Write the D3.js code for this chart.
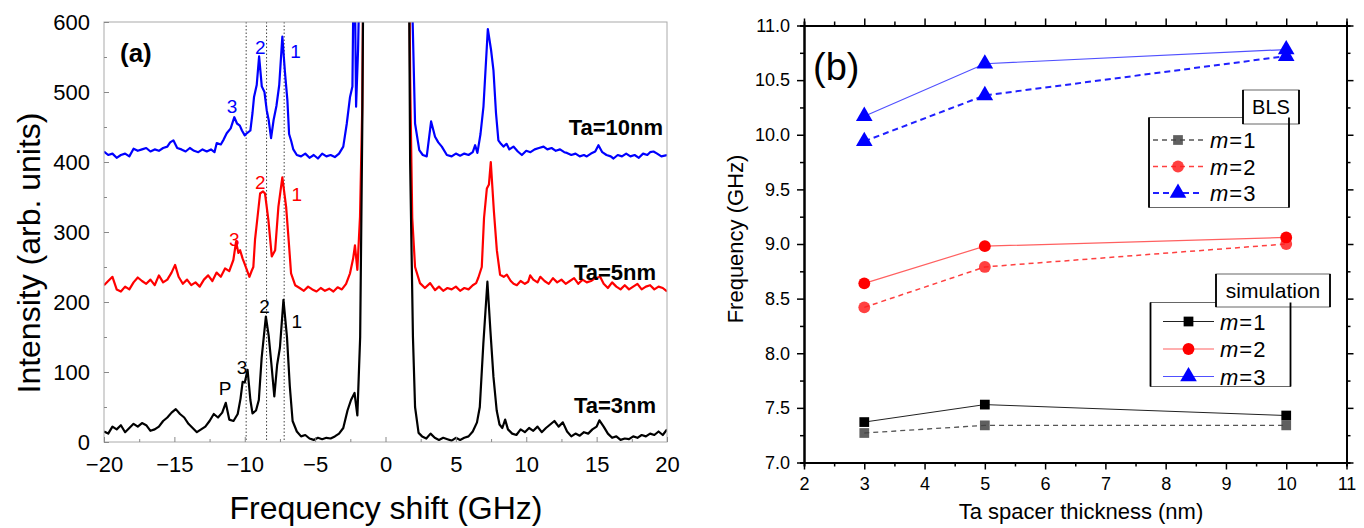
<!DOCTYPE html>
<html>
<head>
<meta charset="utf-8">
<script src="https://cdn.jsdelivr.net/npm/d3@7"></script>
<style>
  body { margin: 0; background: #fff; }
  svg { display: block; font-family: Arial, "Liberation Sans", sans-serif; }
</style>
</head>
<body>
<script>
// Panel (a): BLS spectra, [frequency shift GHz, intensity]
var spec3nm = [[-20,15],[-19.7,12],[-19.4,22],[-19.1,18],[-18.8,24],[-18.5,14],[-18.2,20],[-17.9,26],[-17.6,22],[-17.3,27],[-17,24],[-16.7,16],[-16.4,18],[-16.1,22],[-15.8,30],[-15.5,35],[-15.2,42],[-14.9,47],[-14.6,40],[-14.3,35],[-14,26],[-13.7,20],[-13.4,14],[-13.1,18],[-12.8,22],[-12.5,30],[-12.2,40],[-11.9,35],[-11.6,42],[-11.35,56],[-11.1,32],[-10.8,30],[-10.5,40],[-10.3,62],[-10.15,86],[-10,85],[-9.8,103],[-9.6,60],[-9.45,41],[-9.2,45],[-9,60],[-8.8,120],[-8.5,179],[-8.3,152],[-8.1,110],[-7.9,65],[-7.7,110],[-7.5,135],[-7.25,203],[-7.0,150],[-6.8,80],[-6.6,30],[-6.3,15],[-6,8],[-5.7,10],[-5.4,5],[-5.1,3],[-4.8,6],[-4.5,4],[-4.2,6],[-3.9,5],[-3.6,8],[-3.3,12],[-3.0,20],[-2.7,45],[-2.45,60],[-2.2,70],[-2.0,38],[-1.8,150],[-1.65,450],[-1.5,900],[1.6,900],[1.75,400],[1.95,150],[2.1,50],[2.35,13],[2.6,8],[2.9,5],[3.2,12],[3.5,6],[3.8,3],[4.1,6],[4.4,4],[4.7,2],[5.0,6],[5.3,3],[5.6,6],[5.9,8],[6.2,15],[6.5,28],[6.7,50],[6.95,140],[7.24,229],[7.45,160],[7.67,93],[7.9,45],[8.1,25],[8.3,20],[8.5,32],[8.7,18],[9.0,12],[9.3,10],[9.6,18],[9.9,14],[10.2,20],[10.5,16],[10.8,22],[11.1,14],[11.4,20],[11.7,25],[12.0,30],[12.3,22],[12.6,28],[12.9,15],[13.2,8],[13.5,12],[13.8,9],[14.1,14],[14.4,12],[14.7,18],[15.0,22],[15.2,31],[15.5,22],[15.8,12],[16.1,6],[16.4,8],[16.7,3],[17.0,5],[17.3,4],[17.6,8],[17.9,6],[18.2,10],[18.5,8],[18.8,12],[19.1,10],[19.4,15],[19.7,10],[20,18]];

var spec5nm = [[-20,224],[-19.7,230],[-19.4,236],[-19.1,218],[-18.8,215],[-18.5,222],[-18.2,218],[-17.9,228],[-17.6,235],[-17.3,230],[-17,226],[-16.7,232],[-16.4,224],[-16.1,238],[-15.8,228],[-15.5,232],[-15.2,242],[-14.95,253],[-14.7,236],[-14.4,226],[-14.1,232],[-13.8,224],[-13.5,228],[-13.2,222],[-12.9,232],[-12.6,238],[-12.3,230],[-12,242],[-11.7,236],[-11.4,248],[-11.1,244],[-10.81,260],[-10.62,286],[-10.45,270],[-10.33,274],[-10.15,262],[-9.98,253],[-9.67,236],[-9.5,245],[-9.39,250],[-9.27,289],[-9.1,320],[-8.91,355],[-8.7,358],[-8.56,355],[-8.32,317],[-8.08,265],[-7.84,274],[-7.61,336],[-7.33,378],[-7.06,336],[-6.85,280],[-6.71,241],[-6.42,224],[-6.1,220],[-5.8,216],[-5.5,222],[-5.2,218],[-4.9,215],[-4.6,220],[-4.3,216],[-4.0,219],[-3.7,215],[-3.4,221],[-3.1,218],[-2.8,226],[-2.52,241],[-2.3,262],[-2.17,281],[-2.0,246],[-1.81,322],[-1.65,480],[-1.5,900],[1.6,900],[1.75,520],[1.9,320],[2.1,250],[2.45,227],[2.8,220],[3.17,227],[3.52,217],[3.8,222],[4.1,216],[4.4,220],[4.7,218],[5.0,222],[5.3,216],[5.6,220],[5.9,218],[6.2,224],[6.44,227],[6.6,235],[6.84,250],[7.0,320],[7.2,362],[7.35,368],[7.48,400],[7.7,330],[7.91,274],[8.14,239],[8.4,236],[8.62,239],[8.9,230],[9.1,226],[9.33,224],[9.6,230],[9.9,226],[10.14,229],[10.28,238],[10.5,232],[10.8,228],[11.0,236],[11.3,230],[11.6,226],[11.9,234],[12.2,228],[12.5,232],[12.8,226],[13.1,230],[13.4,234],[13.7,226],[14.0,232],[14.3,228],[14.6,230],[14.9,234],[15.25,236],[15.5,226],[15.8,220],[16.1,228],[16.4,222],[16.7,218],[17.0,224],[17.3,218],[17.6,222],[17.9,226],[18.2,218],[18.5,222],[18.8,224],[19.1,218],[19.4,222],[19.7,220],[20,215]];

var spec10nm = [[-20,415],[-19.7,410],[-19.4,412],[-19.1,406],[-18.8,410],[-18.5,412],[-18.2,408],[-17.9,419],[-17.6,416],[-17.3,418],[-17,420],[-16.7,415],[-16.4,418],[-16.1,416],[-15.8,420],[-15.5,422],[-15.3,428],[-15.07,431],[-14.8,420],[-14.5,418],[-14.2,415],[-13.9,420],[-13.6,416],[-13.3,414],[-13,418],[-12.7,415],[-12.4,418],[-12.15,414],[-11.99,427],[-11.7,425],[-11.5,432],[-11.28,441],[-11.0,448],[-10.74,464],[-10.55,455],[-10.35,452],[-10.2,445],[-10.0,438],[-9.86,441],[-9.6,445],[-9.45,470],[-9.34,493],[-9.15,510],[-8.98,551],[-8.79,508],[-8.6,500],[-8.44,474],[-8.3,460],[-8.13,434],[-7.95,460],[-7.75,480],[-7.55,510],[-7.33,579],[-7.15,530],[-6.97,488],[-6.85,440],[-6.7,430],[-6.55,418],[-6.3,410],[-6.0,408],[-5.7,412],[-5.4,406],[-5.1,410],[-4.8,405],[-4.5,412],[-4.2,408],[-3.9,410],[-3.6,407],[-3.3,412],[-3.0,422],[-2.75,455],[-2.52,493],[-2.35,508],[-2.25,700],[-2.15,600],[-2.09,479],[-1.95,560],[-1.81,700],[-1.5,900],[1.6,900],[1.87,650],[2.1,455],[2.4,417],[2.65,410],[2.93,408],[3.24,458],[3.52,436],[3.75,428],[4.0,422],[4.36,410],[4.7,408],[5.0,412],[5.3,409],[5.6,412],[5.9,410],[6.2,414],[6.37,424],[6.53,413],[6.75,440],[6.96,479],[7.27,590],[7.5,560],[7.67,531],[7.85,470],[8.02,431],[8.2,426],[8.38,422],[8.6,426],[8.8,418],[9.09,422],[9.4,415],[9.69,410],[10.0,416],[10.3,414],[10.6,418],[10.9,420],[11.23,422],[11.5,418],[11.8,420],[12.1,416],[12.4,418],[12.7,414],[12.89,413],[13.2,410],[13.5,412],[13.8,408],[14.1,410],[14.3,408],[14.6,412],[14.9,415],[15.13,424],[15.4,414],[15.7,410],[16.0,408],[16.2,405],[16.5,410],[16.8,408],[17.1,412],[17.4,408],[17.7,410],[18.0,406],[18.3,412],[18.6,410],[18.8,414],[19.04,415],[19.3,412],[19.6,408],[20,410]];

var modeLines = [-9.9, -8.45, -7.2];
var xTicksA = [-20, -15, -10, -5, 0, 5, 10, 15, 20];
var yTicksA = [0, 100, 200, 300, 400, 500, 600];

// Panel (b): mode frequency vs Ta thickness
var thickness = [3, 5, 10];
var simM1 = [7.37, 7.53, 7.43];
var simM2 = [8.64, 8.98, 9.06];
var simM3 = [10.17, 10.65, 10.78];
var blsM1 = [7.27, 7.34, 7.34];
var blsM2 = [8.42, 8.79, 9.00];
var blsM3 = [9.94, 10.36, 10.72];
var xTicksB = [2, 3, 4, 5, 6, 7, 8, 9, 10, 11];
var yTicksB = [7.0, 7.5, 8.0, 8.5, 9.0, 9.5, 10.0, 10.5, 11.0];

var W = 1364, H = 528;
var svg = d3.select("body").append("svg").attr("width", W).attr("height", H);

// ---------- panel (a) ----------
var ax = d3.scaleLinear().domain([-20, 20]).range([104, 667]);
var ay = d3.scaleLinear().domain([0, 600]).range([442, 22]);

svg.append("clipPath").attr("id", "clipA")
    .append("rect").attr("x", 104).attr("y", 22).attr("width", 563).attr("height", 420);

var gA = svg.append("g");

// dotted mode guides
gA.selectAll(".mode")
    .data(modeLines)
    .enter().append("line")
    .attr("x1", ax).attr("x2", ax)
    .attr("y1", ay(600)).attr("y2", ay(0))
    .attr("stroke", "#444").attr("stroke-width", 1)
    .attr("stroke-dasharray", "1.5,2");

var line = d3.line().x(function(d) { return ax(d[0]); }).y(function(d) { return ay(d[1]); });
var spectra = [[spec10nm, "#0000ff"], [spec5nm, "#ff0000"], [spec3nm, "#000000"]];
gA.append("g").attr("clip-path", "url(#clipA)")
    .selectAll("path")
    .data(spectra)
    .enter().append("path")
    .attr("d", function(d) { return line(d[0]); })
    .attr("fill", "none")
    .attr("stroke", function(d) { return d[1]; })
    .attr("stroke-width", 2.2)
    .attr("stroke-linejoin", "round");

// frame + inward ticks
gA.append("rect").attr("x", 104).attr("y", 22).attr("width", 563).attr("height", 420)
    .attr("fill", "none").attr("stroke", "#aaa").attr("stroke-width", 1);

var minorXA = d3.range(-17.5, 20, 5);
var minorYA = d3.range(50, 600, 100);
var xAxisA = gA.append("g").attr("transform", "translate(0,442)")
    .call(d3.axisBottom(ax).tickValues(xTicksA).tickSize(-5).tickSizeOuter(0).tickPadding(14));
xAxisA.selectAll("text").attr("font-size", 22).attr("fill", "#000");
gA.append("g").attr("transform", "translate(0,442)")
    .call(d3.axisBottom(ax).tickValues(minorXA).tickSize(-3).tickFormat(""));
var yAxisA = gA.append("g").attr("transform", "translate(104,0)")
    .call(d3.axisLeft(ay).tickValues(yTicksA).tickSize(-5).tickSizeOuter(0).tickPadding(14));
yAxisA.selectAll("text").attr("font-size", 22).attr("fill", "#000");
gA.append("g").attr("transform", "translate(104,0)")
    .call(d3.axisLeft(ay).tickValues(minorYA).tickSize(-3).tickFormat(""));
gA.selectAll(".domain").remove();
gA.selectAll(".tick line").attr("stroke", "#888");

gA.append("text").attr("x", 386).attr("y", 519).attr("text-anchor", "middle")
    .attr("font-size", 32).text("Frequency shift (GHz)");
gA.append("text").attr("transform", "translate(40,253) rotate(-90)").attr("text-anchor", "middle")
    .attr("font-size", 32).text("Intensity (arb. units)");
gA.append("text").attr("x", 120).attr("y", 62).attr("font-size", 26).attr("font-weight", "bold").text("(a)");

var peakLabels = [
    ["2", -8.9, 555, "#0000ff"], ["1", -6.4, 548, "#0000ff"], ["3", -10.9, 470, "#0000ff"],
    ["2", -8.9, 362, "#ff0000"], ["1", -6.3, 345, "#ff0000"], ["3", -10.75, 280, "#ff0000"],
    ["2", -8.6, 185, "#000"], ["1", -6.3, 163, "#000"], ["3", -10.2, 97, "#000"], ["P", -11.4, 67, "#000"]
];
gA.selectAll(".plab").data(peakLabels).enter().append("text")
    .attr("x", function(d) { return ax(d[1]); })
    .attr("y", function(d) { return ay(d[2]); })
    .attr("text-anchor", "middle").attr("font-size", 19)
    .attr("fill", function(d) { return d[3]; })
    .text(function(d) { return d[0]; });

var seriesLabels = [["Ta=10nm", 663, 135], ["Ta=5nm", 656, 280], ["Ta=3nm", 656, 413]];
gA.selectAll(".slab").data(seriesLabels).enter().append("text")
    .attr("x", function(d) { return d[1]; }).attr("y", function(d) { return d[2]; })
    .attr("text-anchor", "end").attr("font-size", 22).attr("font-weight", "bold")
    .text(function(d) { return d[0]; });

// ---------- panel (b) ----------
var bx = d3.scaleLinear().domain([2, 11]).range([804, 1346.5]);
var by = d3.scaleLinear().domain([7, 11]).range([462.5, 25.5]);
var gB = svg.append("g");

var minorXB = d3.range(2.5, 11, 1);
var minorYB = d3.range(7.25, 11, 0.5);
function styleAxis(g) {
    g.select(".domain").attr("stroke", "#000").attr("stroke-width", 2);
    g.selectAll(".tick line").attr("stroke", "#000").attr("stroke-width", 1.5);
    g.selectAll("text").attr("font-size", 18).attr("fill", "#000");
}
gB.append("g").attr("transform", "translate(0,462.5)")
    .call(d3.axisBottom(bx).tickValues(xTicksB).tickSize(7).tickSizeOuter(0).tickPadding(8).tickFormat(d3.format("d")))
    .call(styleAxis);
gB.append("g").attr("transform", "translate(0,462.5)")
    .call(d3.axisBottom(bx).tickValues(minorXB).tickSize(4).tickFormat("")).call(styleAxis);
gB.append("g").attr("transform", "translate(0,25.5)")
    .call(d3.axisTop(bx).tickValues(xTicksB).tickSize(7).tickSizeOuter(0).tickFormat("")).call(styleAxis);
gB.append("g").attr("transform", "translate(0,25.5)")
    .call(d3.axisTop(bx).tickValues(minorXB).tickSize(4).tickFormat("")).call(styleAxis);
gB.append("g").attr("transform", "translate(804,0)")
    .call(d3.axisLeft(by).tickValues(yTicksB).tickSize(7).tickSizeOuter(0).tickPadding(7).tickFormat(d3.format(".1f")))
    .call(styleAxis);
gB.append("g").attr("transform", "translate(804,0)")
    .call(d3.axisLeft(by).tickValues(minorYB).tickSize(4).tickFormat("")).call(styleAxis);
gB.append("g").attr("transform", "translate(1346.5,0)")
    .call(d3.axisRight(by).tickValues(yTicksB).tickSize(7).tickSizeOuter(0).tickFormat("")).call(styleAxis);
gB.append("g").attr("transform", "translate(1346.5,0)")
    .call(d3.axisRight(by).tickValues(minorYB).tickSize(4).tickFormat("")).call(styleAxis);

gB.append("text").attr("x", 1081).attr("y", 519).attr("text-anchor", "middle")
    .attr("font-size", 22).text("Ta spacer thickness (nm)");
gB.append("text").attr("transform", "translate(743,239) rotate(-90)").attr("text-anchor", "middle")
    .attr("font-size", 22).text("Frequency (GHz)");
gB.append("text").attr("x", 813).attr("y", 80).attr("font-size", 38).text("(b)");

var series = [
    {vals: blsM1, color: "#555", dash: "5,4", width: 1.3, shape: "square", fill: "#444", op: 0.85},
    {vals: blsM2, color: "#ff4040", dash: "5,4", width: 1.5, shape: "circle", fill: "#ff2020", op: 0.85},
    {vals: blsM3, color: "#2020ff", dash: "6,4", width: 2, shape: "triangle", fill: "#0000ff", op: 1},
    {vals: simM1, color: "#222", dash: null, width: 1, shape: "square", fill: "#000", op: 1},
    {vals: simM2, color: "#ff6060", dash: null, width: 1.2, shape: "circle", fill: "#ff0000", op: 1},
    {vals: simM3, color: "#5050ff", dash: null, width: 1.2, shape: "triangle", fill: "#0000ff", op: 1}
];
var symbols = {
    square: d3.symbol().type(d3.symbolSquare).size(95),
    circle: d3.symbol().type(d3.symbolCircle).size(110),
    triangle: d3.symbol().type(d3.symbolTriangle).size(120)
};
var lineB = d3.line().x(function(d) { return bx(d[0]); }).y(function(d) { return by(d[1]); });

series.forEach(function(s) {
    var pts = thickness.map(function(t, i) { return [t, s.vals[i]]; });
    gB.append("path").attr("d", lineB(pts)).attr("fill", "none")
        .attr("stroke", s.color).attr("stroke-width", s.width)
        .attr("stroke-dasharray", s.dash);
    gB.selectAll(null).data(pts).enter().append("path")
        .attr("d", symbols[s.shape])
        .attr("transform", function(d) { return "translate(" + bx(d[0]) + "," + by(d[1]) + ")"; })
        .attr("fill", s.fill).attr("fill-opacity", s.op);
});

// legends
function legend(title, tBox, box, rows, items) {
    var g = gB.append("g");
    g.append("rect").attr("x", box[0]).attr("y", box[1]).attr("width", box[2]).attr("height", box[3])
        .attr("fill", "#fff").attr("stroke", "#666").attr("stroke-width", 1);
    g.append("rect").attr("x", tBox[0]).attr("y", tBox[1]).attr("width", tBox[2]).attr("height", tBox[3])
        .attr("fill", "#fff").attr("stroke", "#666").attr("stroke-width", 1);
    [[box[0], box[1], box[3]], [box[0] + box[2], box[1], box[3]],
     [tBox[0], tBox[1], tBox[3]], [tBox[0] + tBox[2], tBox[1], tBox[3]]].forEach(function(v) {
        g.append("line").attr("x1", v[0]).attr("x2", v[0]).attr("y1", v[1]).attr("y2", v[1] + v[2])
            .attr("stroke", "#000").attr("stroke-width", 1.8);
    });
    g.append("text").attr("x", tBox[0] + tBox[2] / 2).attr("y", tBox[1] + tBox[3] / 2 + 7)
        .attr("text-anchor", "middle").attr("font-size", tBox[4]).text(title);
    items.forEach(function(s, i) {
        var y = rows.y[i];
        g.append("line").attr("x1", rows.x0).attr("x2", rows.x1).attr("y1", y).attr("y2", y)
            .attr("stroke", s.color).attr("stroke-width", s.width).attr("stroke-dasharray", s.dash);
        g.append("path").attr("d", symbols[s.shape])
            .attr("transform", "translate(" + (rows.x0 + rows.x1) / 2 + "," + y + ")")
            .attr("fill", s.fill).attr("fill-opacity", s.op);
        var t = g.append("text").attr("x", rows.tx).attr("y", y + 8).attr("font-size", 22);
        t.append("tspan").attr("font-style", "italic").text("m");
        t.append("tspan").attr("dx", 1).text("=");
        t.append("tspan").attr("dx", 1).text(i + 1);
    });
}
legend("BLS", [1243, 90, 56, 34, 20], [1149, 117.5, 140, 90],
    {x0: 1153, x1: 1203, tx: 1210, y: [140, 166.5, 193]}, series.slice(0, 3));
legend("simulation", [1216, 274, 114, 33, 21], [1150.5, 302.5, 140, 84],
    {x0: 1163, x1: 1214, tx: 1220, y: [321.5, 349, 376.5]}, series.slice(3, 6));
</script>
</body>
</html>
